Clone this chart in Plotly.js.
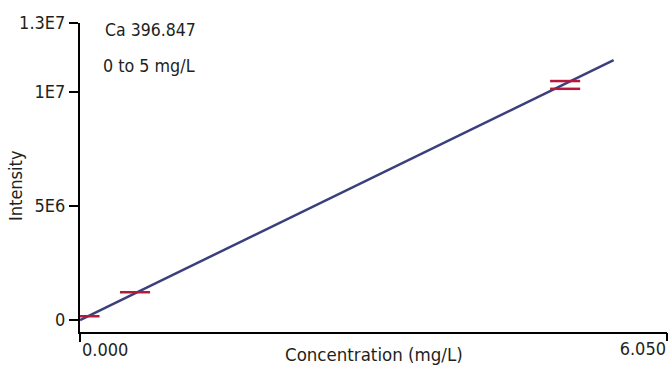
<!DOCTYPE html>
<html>
<head>
<meta charset="utf-8">
<script src="https://cdn.plot.ly/plotly-3.0.1.min.js"></script>
<style>html,body{margin:0;padding:0;background:#fff;}#chart{width:670px;height:366px;}</style>
</head>
<body>
<div id="chart"></div>
<script>
// Calibration standards (dash markers)
const stdConc = [0.046, 0.567, 5.0, 5.0];
const stdIntensity = [1.7e5, 1.22e6, 1.046e7, 1.012e7];
// Calibration fit line endpoints
const fitConc = [0, 5.5];
const fitIntensity = [0, 1.138e7];
// Ticks
const yTickVals = [0, 5e6, 1e7, 1.3e7];
const yTickText = ['0', '5E6', '1E7', '1.3E7'];
const xTickVals = [0, 6.05];
const xTickText = ['0.000', '6.050'];

const FONT = '"Liberation Sans Narrow", "DejaVu Sans Condensed", "Roboto Condensed", "Arial Narrow", sans-serif';
const TXT = '#231f20';

const traces = [
  {x: fitConc, y: fitIntensity, mode: 'lines', type: 'scatter',
   line: {color: '#3b3f7c', width: 2.5}, hoverinfo: 'skip'},
  {x: stdConc, y: stdIntensity, mode: 'markers', type: 'scatter',
   marker: {symbol: 'line-ew', size: 21.5, color: '#b5193b', line: {color: '#b5193b', width: 2.5}}}
];

const layout = {
  width: 670, height: 366,
  margin: {l: 80, r: 3, t: 23, b: 34},
  paper_bgcolor: '#fff', plot_bgcolor: '#fff',
  showlegend: false,
  font: {family: FONT, size: 18, color: TXT},
  xaxis: {range: [0, 6.05], tickvals: [xTickVals[0]], ticktext: [xTickText[0]],
    showgrid: false, zeroline: false, showline: true, linecolor: '#000', linewidth: 2,
    ticks: 'outside', ticklen: 8, tickwidth: 2, tickcolor: '#000',
    ticklabelposition: 'outside right', fixedrange: true},
  xaxis2: {range: [0, 6.05], overlaying: 'x', side: 'bottom', anchor: 'y',
    tickvals: [xTickVals[1]], ticktext: [xTickText[1]],
    showgrid: false, zeroline: false, showline: false,
    ticks: 'outside', ticklen: 8, tickwidth: 2, tickcolor: '#000',
    ticklabelposition: 'outside left', fixedrange: true},
  yaxis: {range: [-5.2e5, 1.3e7], tickvals: yTickVals, ticktext: yTickText,
    showgrid: false, zeroline: false, showline: true, linecolor: '#000', linewidth: 2,
    ticks: 'outside', ticklen: 9, tickwidth: 2, tickcolor: '#000', fixedrange: true},
  annotations: [
    {text: 'Ca 396.847', xref: 'paper', yref: 'paper', x: (103-80)/587, y: (332-29.5)/309,
     xanchor: 'left', yanchor: 'middle', showarrow: false, font: {size: 17.5}},
    {text: '0 to 5 mg/L', xref: 'paper', yref: 'paper', x: (101-80)/587, y: (332-65.5)/309,
     xanchor: 'left', yanchor: 'middle', showarrow: false, font: {size: 17.75}},
    {text: 'Concentration (mg/L)', xref: 'paper', yref: 'paper', x: 0.5, y: (332-354.5)/309,
     xanchor: 'center', yanchor: 'middle', showarrow: false, font: {size: 18.5}},
    {text: 'Intensity', xref: 'paper', yref: 'paper', x: (15-80)/587, y: (332-186)/309,
     xanchor: 'center', yanchor: 'middle', textangle: -90, showarrow: false, font: {size: 18}}
  ]
};

traces.push({x: [6.05], y: [null], xaxis: 'x2', yaxis: 'y', type: 'scatter', mode: 'markers', hoverinfo: 'skip'});

Plotly.newPlot('chart', traces, layout, {staticPlot: true, displayModeBar: false});
</script>
</body>
</html>
